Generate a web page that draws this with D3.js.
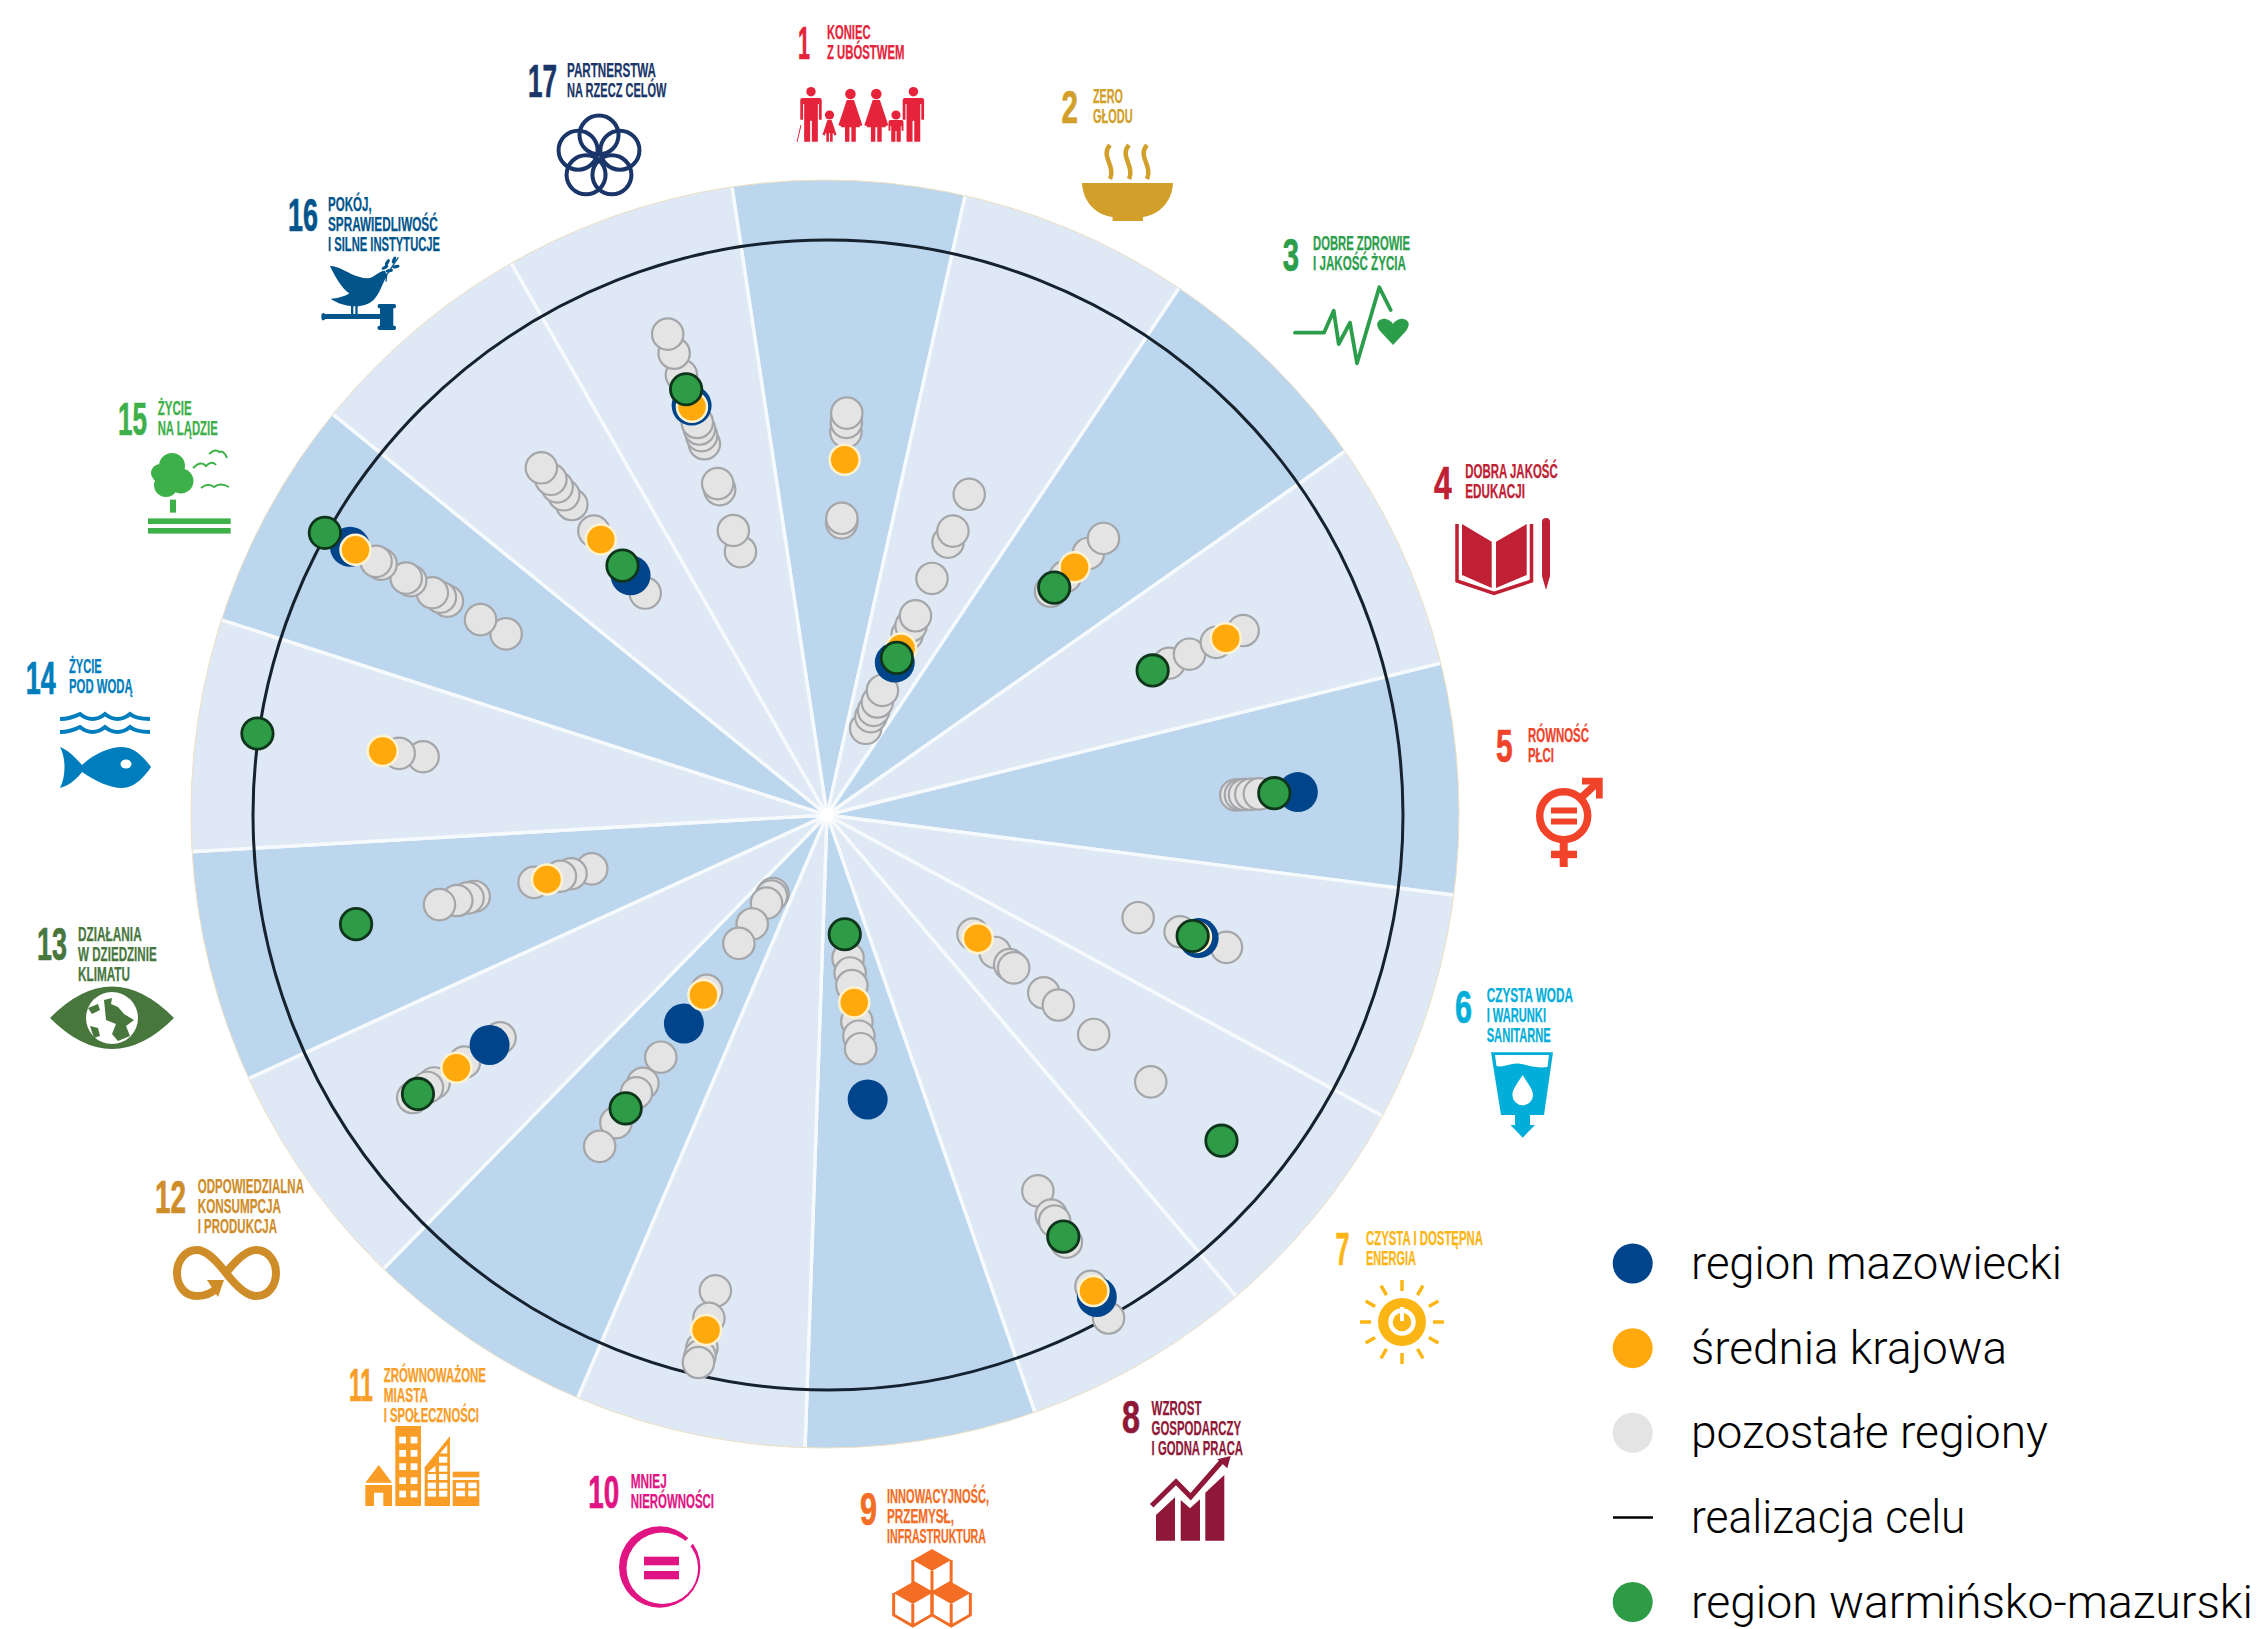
<!DOCTYPE html>
<html>
<head>
<meta charset="utf-8">
<script src="https://cdn.jsdelivr.net/npm/d3@7"></script>
<style>
	html, body { margin: 0; padding: 0; background: #fff; }
	svg { display: block; }
</style>
</head>
<body>
<svg id="chart" width="2264" height="1629"></svg>
<script>
// goals
var goalNumbers = ['1','2','3','4','5','6','7','8','9','10','11','12','13','14','15','16','17'];
var goalNames = [
	['KONIEC','Z UBÓSTWEM'], ['ZERO','GŁODU'], ['DOBRE ZDROWIE','I JAKOŚĆ ŻYCIA'], ['DOBRA JAKOŚĆ','EDUKACJI'],
	['RÓWNOŚĆ','PŁCI'], ['CZYSTA WODA','I WARUNKI','SANITARNE'], ['CZYSTA I DOSTĘPNA','ENERGIA'],
	['WZROST','GOSPODARCZY','I GODNA PRACA'], ['INNOWACYJNOŚĆ,','PRZEMYSŁ,','INFRASTRUKTURA'], ['MNIEJ','NIERÓWNOŚCI'],
	['ZRÓWNOWAŻONE','MIASTA','I SPOŁECZNOŚCI'], ['ODPOWIEDZIALNA','KONSUMPCJA','I PRODUKCJA'],
	['DZIAŁANIA','W DZIEDZINIE','KLIMATU'], ['ŻYCIE','POD WODĄ'], ['ŻYCIE','NA LĄDZIE'],
	['POKÓJ,','SPRAWIEDLIWOŚĆ','I SILNE INSTYTUCJE'], ['PARTNERSTWA','NA RZECZ CELÓW']
];
var darkGoals = ['1','3','5','9','11','13','15'];

// series, 1 = goal reached, null = no dot in the picture
var mazowiecki = [null,.287,null,null,.818,.680,null,.962,.502,null,.443,.713,null,null,.952,.538,.748];
var srednia = [.616,.314,.606,.756,null,.675,.339,.950,.332,.923,.383,.783,.502,.782,.941,.619,.746];
var warminsko = [null,.296,.556,.617,.777,.669,.890,.842,.212,null,.622,.864,.843,1.002,1.002,.560,.778];
var pozostale = [
	[.697,.681,.664,.514,.506],
	[.607,.537,.516,.447,.376,.357,.340,.234,.212,.196,.184,.162],
	[.677,.640,.583,.547],
	[.789,.738,.687,.648],
	[.751,.736,.725,.718,.710],
	[.569,.646,.731],
	[.328,.378,.411,.420,.488,.521,.601,.730],
	[.751,.799,.811,.853,.941,1.004],
	[.254,.280,.302,.365,.391,.413],
	[.853,.902,.955,.969,.981],
	[.169,.174,.189,.233,.274,.373,.514,.569,.589,.652,.702],
	[.691,.766,.830,.844,.875],
	[.422,.459,.478,.525,.632,.643,.663,.694],
	[.711,.753],
	[.641,.692,.758,.772,.788,.831,.840,.890,.900],
	[.498,.638,.698,.720,.738,.755,.781],
	[.480,.519,.594,.605,.678,.693,.705,.717,.804,.844,.879]
];

var legendLabels = ['region mazowiecki','średnia krajowa','pozostałe regiony','realizacja celu','region warmińsko-mazurski'];
var legendWidths = [371,316,357,274.5,562];

// label layout: number x, number baseline, number width, text x, first baseline, line widths
var labelSpots = [
	[798,59.3,12,827,39.3,[43.5,77.5]],
	[1061.6,123,16.5,1093,103,[30,39.6]],
	[1282.7,270.7,16.3,1313,250,[97,93]],
	[1434,499,17.7,1465.3,478.3,[92.4,59.7]],
	[1496,762,16.7,1528,741.7,[61,26]],
	[1455,1023,17,1486.7,1001.7,[86.3,59.3,64]],
	[1335.6,1265,14,1366,1245.3,[117,50]],
	[1122,1433.4,18,1151.6,1414.5,[50,89.4,91.4]],
	[860,1525,17,887,1503,[102,67,99]],
	[588.3,1508.3,31,630.7,1488.3,[36,83.3]],
	[349,1401,24,383.7,1381.6,[102.3,44.3,95.3]],
	[155,1213,31,197.7,1192.7,[106.3,83.3,79.3]],
	[37,960,30,78,941,[63.7,78.7,52]],
	[25.7,694,30,69,673,[32.7,63.7]],
	[118,434.5,29,157.7,415,[34,60]],
	[288,230.7,30,328,210.7,[43.7,109.7,112]],
	[528,97,29,567,77.3,[89,99.5]]
];
var goalColors = ['#e5243b','#d19f2a','#2c9e4b','#c02033','#f0432a','#00aed9','#fbb615','#8f1838','#f36d25','#e11484','#f99d26','#cf8d2a','#48773e','#007dbc','#3eb049','#02558b','#1a3668'];

var cx = 828, cy = 813;
var svg = d3.select('#chart');
var defs = svg.append('defs');
defs.append('clipPath').attr('id', 'disc').append('circle').attr('cx', 825).attr('cy', 814).attr('r', 634);
defs.append('filter').attr('id', 'soft').append('feGaussianBlur').attr('stdDeviation', .6);

var turn = 2 * Math.PI, deg = Math.PI / 180;
var wedgeAngle = d3.scaleBand().domain(goalNumbers).range([-8.6 * deg, -8.6 * deg + turn]);
var dotAngle = d3.scaleBand().domain(goalNumbers).range([-7.9 * deg, -7.9 * deg + turn]);
var radius = d3.scaleLinear().domain([0, 1]).range([0, 575]);
var midAngle = g => dotAngle(g) + dotAngle.bandwidth() / 2;

// wedges
var chart = svg.append('g').attr('filter', 'url(#soft)');
var wedge = d3.arc().innerRadius(0).outerRadius(720)
	.startAngle(g => wedgeAngle(g)).endAngle(g => wedgeAngle(g) + wedgeAngle.bandwidth());
chart.append('g').attr('clip-path', 'url(#disc)')
	.append('g').attr('transform', `translate(${cx - 1},${cy + 2})`)
	.selectAll('path').data(goalNumbers).join('path')
	.attr('d', wedge)
	.style('fill', g => darkGoals.includes(g) ? '#bcd6ee' : '#dfe9f5')
	.style('stroke', '#f6fafd')
	.style('stroke-width', 3.4)
;
chart.append('circle').attr('cx', cx - 1).attr('cy', cy + 2).attr('r', 7).style('fill', '#fff');
chart.append('circle').attr('cx', 825).attr('cy', 814).attr('r', 634)
	.style('fill', 'none').style('stroke', '#ecdfc4').style('stroke-width', 1);

// goal reached ring
chart.append('circle').attr('cx', cx).attr('cy', cy + 2).attr('r', radius(1))
	.style('fill', 'none').style('stroke', '#14202f').style('stroke-width', 3);

// dots
var dots = chart.append('g').attr('transform', `translate(${cx},${cy + .5})`);
var px = (g, v) => radius(v) * Math.sin(midAngle(g));
var py = (g, v) => -radius(v) * Math.cos(midAngle(g));

function drawDots(cls, rows, r, fill, stroke, strokeWidth) {
	dots.append('g').attr('class', cls).selectAll('circle').data(rows).join('circle')
		.attr('cx', d => px(d.g, d.v))
		.attr('cy', d => py(d.g, d.v))
		.attr('r', r)
		.style('fill', fill)
		.style('stroke', stroke)
		.style('stroke-width', strokeWidth)
	;
}
function seriesRows(values) {
	return values.map((v, i) => ({g: goalNumbers[i], v: v})).filter(d => d.v !== null);
}
var grayRows = [];
pozostale.forEach((vals, i) => vals.forEach(v => grayRows.push({g: goalNumbers[i], v: v})));
drawDots('pozostale', grayRows.sort((a, b) => a.v - b.v), 15.7, '#e4e4e4', '#a4a6a9', 2.2);
drawDots('mazowiecki', seriesRows(mazowiecki), 20, '#00458c', 'none', 0);
drawDots('srednia', seriesRows(srednia), 15, '#ffa90e', '#fff2cf', 2.5);
drawDots('warminsko', seriesRows(warminsko), 15.7, '#2e9b47', '#10351c', 2.8);

// goal labels
var labels = svg.append('g').style('font-family', '"Liberation Sans Narrow", "Liberation Sans", sans-serif').style('font-weight', 700);
goalNumbers.forEach(function(num, i) {
	let s = labelSpots[i];
	let g = labels.append('g').style('fill', goalColors[i]).style('stroke', goalColors[i]);
	let n = g.append('text').attr('x', 0).attr('y', 0).style('font-size', '46px').style('stroke-width', .7).text(num);
	n.attr('transform', `translate(${s[0]},${s[1]}) scale(${s[2] / n.node().getComputedTextLength()},1)`);
	g.selectAll('text.line').data(goalNames[i]).join('text')
		.attr('class', 'line')
		.attr('x', s[3])
		.attr('y', (d, k) => s[4] + k * 20)
		.attr('textLength', (d, k) => s[5][k])
		.attr('lengthAdjust', 'spacingAndGlyphs')
		.style('font-size', '19.5px')
		.style('stroke-width', .25)
		.text(d => d)
	;
});

// goal icons, hand traced
var icons = svg.append('g');
function iconGroup(i) { return icons.append('g').style('fill', goalColors[i]).style('stroke', 'none'); }
function line(g, d, i, w) { return g.append('path').attr('d', d).style('fill', 'none').style('stroke', goalColors[i]).style('stroke-width', w); }

// 1 family
function person(g, x, headY, top, bottom, hw, dress) {
	let r = Math.max(hw * .44, 4.6);
	g.append('circle').attr('cx', x).attr('cy', headY).attr('r', r);
	if (dress) {
		g.append('path').attr('d', `M${x-hw*.3},${top} L${x+hw*.3},${top} L${x+hw},${top+hw*2.1} L${x+hw*.65},${top+hw*2.2} L${x+hw*.45},${top+hw*1.2} L${x+hw*.8},${bottom-hw*1.2} L${x+hw*.45},${bottom-hw*1.2} V${bottom} H${x+hw*.08} V${bottom-hw*1.2} H${x-hw*.08} V${bottom} H${x-hw*.45} V${bottom-hw*1.2} H${x-hw*.8} L${x-hw*.45},${top+hw*1.2} L${x-hw*.65},${top+hw*2.2} L${x-hw},${top+hw*2.1} Z`);
	} else {
		g.append('path').attr('d', `M${x-hw+2},${top} H${x+hw-2} Q${x+hw},${top} ${x+hw},${top+2} V${top+(bottom-top)*.5} H${x+hw*.74} V${top+6} H${x+hw*.64} V${bottom} H${x+hw*.08} V${top+(bottom-top)*.52} H${x-hw*.08} V${bottom} H${x-hw*.64} V${top+6} H${x-hw*.74} V${top+(bottom-top)*.5} H${x-hw} V${top+2} Q${x-hw},${top} ${x-hw+2},${top} Z`);
	}
}
var ic = iconGroup(0);
person(ic, 811, 91.7, 98, 141.7, 10.7);
person(ic, 829.5, 115, 120, 141.7, 7, true);
person(ic, 850.4, 94, 100, 141.7, 12, true);
person(ic, 876.3, 94, 100, 141.7, 12, true);
person(ic, 896, 115, 120, 141.7, 7.5);
person(ic, 913.4, 91.7, 98, 141.7, 10.7);
line(ic, 'M801,125 L797,142', 0, 1);

// 2 bowl
ic = iconGroup(1);
ic.append('path').attr('d', 'M1082,183 H1173 C1172,203 1158,215 1143,217 V221 H1112.5 V217 C1097,215 1083,203 1082,183 Z');
[1108, 1127, 1145].forEach(x => line(ic, `M${x+2},145 C${x-8},156 ${x+8},166 ${x+2},179`, 1, 4.5));

// 3 pulse and heart
ic = iconGroup(2);
line(ic, 'M1295,332.7 H1324 L1333.7,310.7 L1338.7,344 L1350,322.7 L1357,363.3 L1379.3,287.3 L1390.7,310', 2, 3.8).style('stroke-linejoin', 'round').style('stroke-linecap', 'round');
ic.append('path').attr('d', 'M1393,345 L1380,331 C1373,322 1381,318 1386,319 C1390,320 1392,322 1393,324 C1394,322 1396,320 1400,319 C1405,318 1413,322 1406,331 Z');

// 4 book and pencil
ic = iconGroup(3);
ic.append('path').attr('d', 'M1462,524 L1491.7,541.7 V588 L1462,575 Z');
ic.append('path').attr('d', 'M1526.7,524 L1496,541.7 V588 L1526.7,575 Z');
line(ic, 'M1457,524 V581 L1494,593.5 L1531.5,581 V524', 3, 3.5);
ic.append('path').attr('d', 'M1542,522 A4,4 0 0 1 1550,522 V576 L1546,590 L1542,576 Z');

// 5 gender equality
ic = iconGroup(4);
ic.append('circle').attr('cx', 1563.7).attr('cy', 815.7).attr('r', 24).style('fill', 'none').style('stroke', goalColors[4]).style('stroke-width', 7.5);
ic.append('rect').attr('x', 1551).attr('y', 807.5).attr('width', 26).attr('height', 6);
ic.append('rect').attr('x', 1551).attr('y', 818.5).attr('width', 26).attr('height', 6);
ic.append('rect').attr('x', 1559.7).attr('y', 841).attr('width', 8).attr('height', 26);
ic.append('rect').attr('x', 1551).attr('y', 850.7).attr('width', 26).attr('height', 7.5);
line(ic, 'M1582,797 L1598,782', 4, 7.5);
ic.append('path').attr('d', 'M1582,777.7 H1602.7 V798.5 H1596 V784.5 H1582 Z');

// 6 water
ic = iconGroup(5);
ic.append('path').attr('d', 'M1491,1052.3 H1553 L1544,1115 H1530 V1125 H1535 L1522.7,1137.7 L1510.5,1125 H1515 V1115 H1501 Z');
ic.append('path').attr('d', 'M1495,1055 H1549 L1547.5,1067 C1535,1069 1525,1064 1518,1063.5 C1510,1063 1503,1068 1496.5,1066 Z').style('fill', '#fff');
ic.append('path').attr('d', 'M1522.7,1075 C1528,1084 1533,1089 1533,1095 A10.3,10.3 0 0 1 1512.4,1095 C1512.4,1089 1517,1084 1522.7,1075 Z').style('fill', '#fff');

// 7 sun
ic = iconGroup(6);
ic.append('circle').attr('cx', 1402).attr('cy', 1322).attr('r', 24);
ic.append('circle').attr('cx', 1402).attr('cy', 1322).attr('r', 11.5).style('fill', 'none').style('stroke', '#fff').style('stroke-width', 4.5);
ic.append('rect').attr('x', 1400).attr('y', 1307).attr('width', 4).attr('height', 14).style('fill', '#fff');
d3.range(12).forEach(function(k) {
	let a = k * Math.PI / 6;
	line(ic, `M${1402+31*Math.sin(a)},${1322-31*Math.cos(a)} L${1402+42*Math.sin(a)},${1322-42*Math.cos(a)}`, 6, 3.5);
});

// 8 growth
ic = iconGroup(7);
ic.append('path').attr('d', 'M1156,1515 L1175,1497.3 V1540.7 H1156 Z');
ic.append('path').attr('d', 'M1180.7,1500 L1190,1508.3 L1200,1499.3 V1540.7 H1180.7 Z');
ic.append('path').attr('d', 'M1205.3,1492.7 L1224.3,1475 V1540.7 H1205.3 Z');
line(ic, 'M1151.7,1505.7 L1176,1481.7 L1190.7,1496.7 L1222,1461', 7, 5);
ic.append('path').attr('d', 'M1230.7,1456 L1217.3,1459.3 L1227.3,1468.3 Z');

// 9 cubes
ic = iconGroup(8);
function cube(x, y, s) {
	let w = s * .87, h = s * .5;
	ic.append('path').attr('d', `M${x},${y-s} L${x+w},${y-h} L${x},${y} L${x-w},${y-h} Z`);
	line(ic, `M${x-w},${y-h} V${y+h} L${x},${y+s} L${x+w},${y+h} V${y-h} M${x},${y} V${y+s}`, 8, 3);
}
cube(932, 1571, 22);
cube(912.8, 1604, 22);
cube(951.2, 1604, 22);

// 10 equal
ic = iconGroup(9);
ic.append('path').attr('fill-rule', 'evenodd')
	.attr('d', 'M619,1567 A40.7,40.7 0 1 1 700.4,1567 A40.7,40.7 0 1 1 619,1567 Z M626.5,1568.3 A35.8,35.8 0 1 0 698.1,1568.3 A35.8,35.8 0 1 0 626.5,1568.3 Z');
ic.append('path').attr('d', 'M689.3,1537.3 L683.3,1542.7 L688.3,1548.3 L695,1541.7 Z').style('fill', '#fff');
ic.append('rect').attr('x', 644).attr('y', 1556.7).attr('width', 35).attr('height', 8.6);
ic.append('rect').attr('x', 644).attr('y', 1571).attr('width', 35).attr('height', 8.3);

// 11 city
ic = iconGroup(10);
ic.append('path').attr('d', 'M378.7,1465 L365.3,1482.7 H392 Z');
ic.append('path').attr('d', 'M365.3,1485 H392 V1506 H383.3 V1492.7 H374 V1506 H365.3 Z');
ic.append('rect').attr('x', 395.3).attr('y', 1426).attr('width', 25.7).attr('height', 80);
[1436.7, 1450, 1463.3, 1477.3, 1490.7].forEach(function(y) {
	ic.append('rect').attr('x', 399.3).attr('y', y).attr('width', 6.7).attr('height', 6.7).style('fill', '#fff');
	ic.append('rect').attr('x', 410.7).attr('y', y).attr('width', 6.7).attr('height', 6.7).style('fill', '#fff');
});
ic.append('path').attr('d', 'M424.7,1467.3 L450,1436 V1506 H424.7 Z');
[1474, 1482.7, 1490.7].forEach(function(y) {
	ic.append('rect').attr('x', 427.7).attr('y', y).attr('width', 8.3).attr('height', 6).style('fill', '#fff');
	ic.append('rect').attr('x', 439).attr('y', y).attr('width', 8.3).attr('height', 6).style('fill', '#fff');
});
[1456.7, 1465.7].forEach(y => ic.append('rect').attr('x', 439).attr('y', y).attr('width', 8.3).attr('height', 6).style('fill', '#fff'));
ic.append('path').attr('d', 'M428,1472 L435.5,1465.7 V1472 Z M440,1453.5 L447.3,1445 V1453.5 Z').style('fill', '#fff');
ic.append('rect').attr('x', 452.7).attr('y', 1471.7).attr('width', 26.6).attr('height', 5.6);
ic.append('rect').attr('x', 452.7).attr('y', 1480).attr('width', 26.6).attr('height', 26);
[1482.7, 1490.7].forEach(function(y) {
	ic.append('rect').attr('x', 456).attr('y', y).attr('width', 9).attr('height', 5.6).style('fill', '#fff');
	ic.append('rect').attr('x', 468.3).attr('y', y).attr('width', 8.4).attr('height', 5.6).style('fill', '#fff');
});

// 12 infinity
ic = iconGroup(11);
line(ic, 'M226,1273 C240,1255 250,1250 256,1250 C268,1250 276,1261 276,1273 C276,1286 268,1296 256,1296 C250,1296 240,1291 226,1273 C212,1255 204,1250 197,1250 C185,1250 177,1261 177,1273 C177,1286 185,1296 197,1296 C205,1296 212,1293 217,1288', 11, 8);
ic.append('path').attr('d', 'M207,1280 L224,1280 L218,1297 Z');

// 13 eye and globe
ic = iconGroup(12);
ic.append('path').attr('d', 'M50,1018 Q112,955 174,1018 Q112,1080 50,1018 Z');
ic.append('circle').attr('cx', 112).attr('cy', 1018).attr('r', 26).style('fill', '#fff');
ic.append('path').attr('d', 'M104,1000 L112,998 L111,1004 L118,1007 L124,1014 L134,1020 L126,1026 L130,1036 L118,1041 L112,1034 L116,1024 L106,1020 Z');
ic.append('path').attr('d', 'M88,1008 L98,1004 L100,1010 L92,1014 Z M90,1026 L98,1028 L100,1036 L94,1038 Z');

// 14 waves and fish
ic = iconGroup(13);
[716, 729].forEach(y => line(ic, `M60,${y+3} Q70,${y+3} 80,${y-2} Q86,${y+3} 92.5,${y+3} Q99,${y+3} 105,${y-2} Q111,${y+3} 117.5,${y+3} Q124,${y+3} 130,${y-2} Q136,${y+3} 150,${y+3}`, 13, 4));
ic.append('path').attr('d', 'M60,747 C68,750 76,758 82,765 C95,753 110,747 122,747 C135,747 145,759 151,767 C145,776 135,788 122,788 C110,788 95,781 82,772 C76,780 68,786 60,788 C66,776 66,758 60,747 Z');
ic.append('ellipse').attr('cx', 126).attr('cy', 764).attr('rx', 5.5).attr('ry', 4.5).style('fill', '#fff');

// 15 tree and birds
ic = iconGroup(14);
ic.append('circle').attr('cx', 172).attr('cy', 466).attr('r', 13);
ic.append('circle').attr('cx', 160).attr('cy', 473).attr('r', 9);
ic.append('circle').attr('cx', 181).attr('cy', 481).attr('r', 12.5);
ic.append('circle').attr('cx', 166).attr('cy', 485).attr('r', 12);
ic.append('rect').attr('x', 170).attr('y', 499.6).attr('width', 6).attr('height', 13);
ic.append('rect').attr('x', 148).attr('y', 518.4).attr('width', 82.7).attr('height', 5.6);
ic.append('rect').attr('x', 148).attr('y', 528).attr('width', 82.7).attr('height', 5.6);
line(ic, 'M193,468 Q201,460 206,466 Q212,460 216,465', 14, 2);
line(ic, 'M209,454 Q216,448 219,452 Q224,450 227,458', 14, 2);
line(ic, 'M201,488 Q208,482 214,487 Q220,482 229,487', 14, 2);

// 16 dove and gavel, traced at 3x
ic = iconGroup(15).append('g').attr('transform', 'translate(270,180) scale(.3333)');
ic.append('path').attr('d', 'M180,258 C215,258 240,290 290,295 C310,297 325,272 345,272 L352,288 C340,300 335,330 315,355 C300,375 270,382 240,378 C215,375 195,365 182,357 C200,355 225,350 238,340 C215,325 195,290 180,258 Z');
ic.append('rect').attr('x', 243).attr('y', 375).attr('width', 7).attr('height', 30);
ic.append('rect').attr('x', 256).attr('y', 375).attr('width', 7).attr('height', 30);
ic.append('path').attr('d', 'M348,305 L350,285 L385,232').style('fill', 'none').style('stroke', goalColors[15]).style('stroke-width', 4);
[[352,247,-60],[372,240,-70],[358,272,-10],[378,260,-15],[345,262,-30]].forEach(l => ic.append('ellipse')
	.attr('rx', 11).attr('ry', 5).attr('transform', `translate(${l[0]},${l[1]}) rotate(${l[2]})`));
ic.append('rect').attr('x', 165).attr('y', 402).attr('width', 170).attr('height', 15);
ic.append('ellipse').attr('cx', 160).attr('cy', 410).attr('rx', 6).attr('ry', 11);
ic.append('rect').attr('x', 330).attr('y', 380).attr('width', 40).attr('height', 62);
ic.append('rect').attr('x', 323).attr('y', 372).attr('width', 55).attr('height', 13).attr('rx', 5);
ic.append('rect').attr('x', 323).attr('y', 437).attr('width', 55).attr('height', 13).attr('rx', 5);

// 17 rings
ic = iconGroup(16);
d3.range(5).forEach(function(k) {
	let a = k * turn / 5;
	ic.append('circle').attr('cx', 599 + 22 * Math.sin(a)).attr('cy', 157 - 22 * Math.cos(a)).attr('r', 19.5)
		.style('fill', 'none').style('stroke', goalColors[16]).style('stroke-width', 4);
});

// legend
var legendY = d3.scalePoint().domain(legendLabels).range([1263.5, 1602]);
var legendColors = ['#00458c', '#ffa90e', '#e4e4e4', null, '#2e9b47'];
var legend = svg.append('g').selectAll('g').data(legendLabels).join('g');
legend.filter((d, i) => legendColors[i] !== null).append('circle')
	.attr('cx', 1632.7).attr('cy', d => legendY(d)).attr('r', 20)
	.style('fill', d => legendColors[legendLabels.indexOf(d)])
;
legend.filter((d, i) => legendColors[i] === null).append('line')
	.attr('x1', 1613).attr('x2', 1653).attr('y1', d => legendY(d)).attr('y2', d => legendY(d))
	.style('stroke', '#000').style('stroke-width', 2.5)
;
legend.append('text')
	.attr('x', 1691)
	.attr('y', d => legendY(d) + 15.5)
	.attr('textLength', (d, i) => legendWidths[i])
	.attr('lengthAdjust', 'spacingAndGlyphs')
	.style('font-family', 'Roboto, sans-serif')
	.style('font-weight', 300)
	.style('font-size', '47px')
	.style('fill', '#000')
	.text(d => d)
;
</script>
</body>
</html>
